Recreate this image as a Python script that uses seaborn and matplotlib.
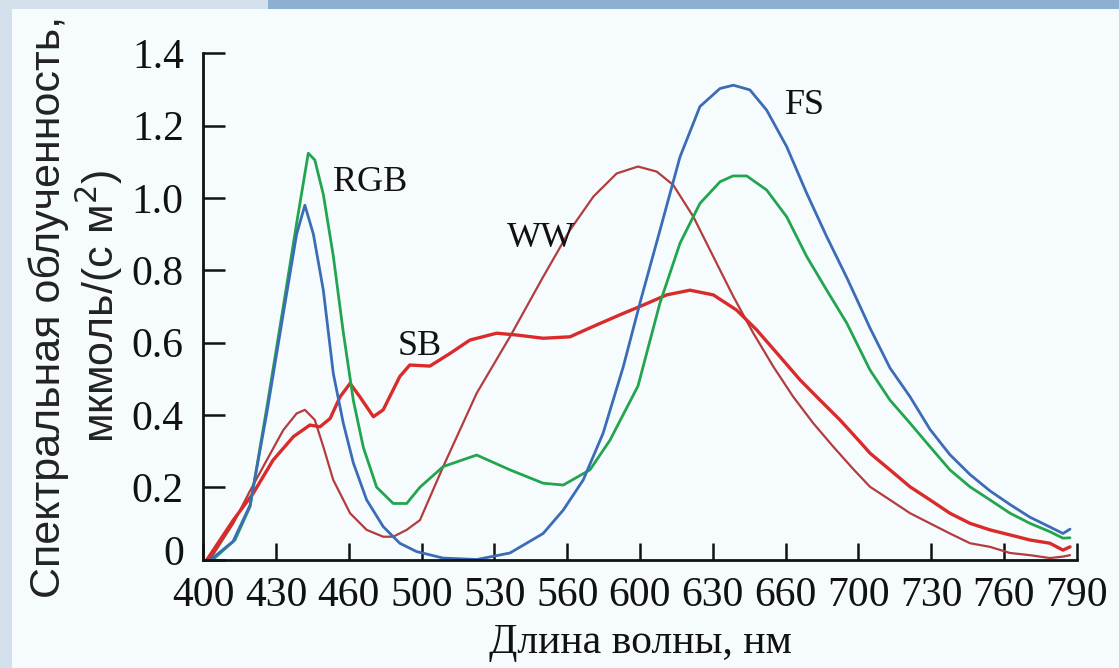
import numpy as np
import pandas as pd
import matplotlib
matplotlib.use("Agg")
import matplotlib.pyplot as plt
from matplotlib.patches import Rectangle
from matplotlib.transforms import ScaledTranslation
import seaborn as sns

# ---- data (wavelength, nm ; irradiance, umol/(s m2)) ----
tick_nm = [400, 430, 460, 500, 530, 560, 600, 630, 660, 700, 730, 760, 790]
tick_labels = [str(t) for t in tick_nm]
y_ticks = [0, 0.2, 0.4, 0.6, 0.8, 1.0, 1.2, 1.4]
y_tick_labels = ["0", "0.2", "0.4", "0.6", "0.8", "1.0", "1.2", "1.4"]

rgb_x = [404.0, 413.1, 419.3, 426.2, 433.0, 438.5, 443.3, 446.0, 449.5, 453.6, 457.7,
         462.5, 468.0, 475.3, 484.4, 491.8, 499.1, 508.9, 522.7, 536.4, 550.1, 558.4,
         572.5, 583.5, 598.9, 608.2, 616.5, 624.7, 633.0, 638.3, 644.0, 652.2, 660.6,
         671.6, 682.6, 693.6, 704.8, 713.0, 721.3, 729.5, 737.7, 746.0, 754.2, 762.5,
         770.7, 778.9, 784.3, 787.2]
rgb_y = [0.0, 0.054, 0.146, 0.42, 0.70, 0.93, 1.124, 1.105, 1.01, 0.84, 0.63,
         0.44, 0.31, 0.20, 0.155, 0.155, 0.20, 0.257, 0.289, 0.248, 0.211, 0.206,
         0.248, 0.33, 0.48, 0.709, 0.875, 0.985, 1.045, 1.061, 1.061, 1.022, 0.948,
         0.838, 0.745, 0.654, 0.524, 0.441, 0.377, 0.312, 0.248, 0.201, 0.165, 0.128,
         0.10, 0.077, 0.059, 0.06]

fs_x = [403.2, 412.3, 419.3, 426.2, 433.0, 438.5, 441.9, 445.4, 449.5, 453.6, 457.7,
        462.5, 469.8, 478.9, 488.0, 497.2, 508.8, 522.7, 536.4, 550.1, 558.4, 568.8,
        579.7, 590.8, 600.4, 608.2, 616.5, 624.7, 633.0, 638.5, 645.3, 652.2, 660.6,
        671.6, 682.6, 693.6, 700.7, 704.8, 713.0, 721.3, 729.5, 737.7, 746.0, 754.2,
        762.5, 770.7, 778.9, 784.3, 787.2]
fs_y = [0.0, 0.05, 0.15, 0.405, 0.68, 0.90, 0.98, 0.90, 0.745, 0.515, 0.378,
        0.267, 0.165, 0.091, 0.045, 0.022, 0.004, 0.0, 0.018, 0.072, 0.137, 0.22,
        0.349, 0.533, 0.72, 0.91, 1.114, 1.253, 1.303, 1.312, 1.299, 1.243, 1.142,
        1.013, 0.893, 0.78, 0.70, 0.64, 0.53, 0.45, 0.36, 0.29, 0.235, 0.19,
        0.152, 0.117, 0.09, 0.072, 0.084]

ww_x = [402.8, 412.4, 419.3, 426.2, 433.0, 438.5, 441.9, 446.0, 449.5, 453.6, 460.7,
        469.8, 478.9, 484.4, 491.8, 499.1, 508.9, 522.7, 536.4, 550.1, 561.5, 574.4,
        587.2, 598.9, 606.9, 613.7, 622.0, 630.2, 638.5, 646.7, 655.0, 664.2, 675.2,
        686.2, 697.2, 704.8, 713.0, 721.3, 729.5, 737.7, 746.0, 754.2, 762.5, 770.7,
        778.9, 784.3, 787.2]
ww_y = [0.0, 0.10, 0.19, 0.275, 0.358, 0.404, 0.414, 0.386, 0.312, 0.22, 0.128,
        0.082, 0.063, 0.063, 0.082, 0.109, 0.257, 0.46, 0.616, 0.782, 0.911, 1.004,
        1.068, 1.087, 1.073, 1.036, 0.948, 0.838, 0.727, 0.626, 0.533, 0.45, 0.377,
        0.312, 0.25, 0.201, 0.165, 0.128, 0.10, 0.072, 0.045, 0.035, 0.018, 0.012,
        0.004, 0.008, 0.012]

sb_x = [401.6, 412.4, 420.6, 428.8, 437.2, 444.0, 448.1, 452.3, 456.4, 460.7, 466.1,
        473.5, 478.9, 488.0, 493.5, 503.4, 511.7, 519.9, 530.9, 539.2, 550.1, 561.5,
        576.2, 590.9, 601.4, 611.0, 620.6, 630.2, 639.8, 648.1, 657.7, 667.9, 678.9,
        689.9, 700.7, 704.8, 713.0, 721.3, 729.5, 737.7, 746.0, 754.2, 762.5, 770.7,
        778.9, 784.3, 787.2]
sb_y = [0.0, 0.109, 0.183, 0.275, 0.34, 0.372, 0.367, 0.39, 0.45, 0.487, 0.45,
        0.395, 0.414, 0.506, 0.538, 0.535, 0.57, 0.607, 0.626, 0.621, 0.612, 0.616,
        0.649, 0.681, 0.704, 0.732, 0.745, 0.732, 0.69, 0.635, 0.561, 0.497, 0.441,
        0.386, 0.325, 0.294, 0.248, 0.201, 0.165, 0.128, 0.10, 0.082, 0.068, 0.054,
        0.045, 0.026, 0.035]

series_names = ["RGB", "FS", "WW", "SB"]
series_colors = {"RGB": "#23a44e", "FS": "#3b6cb5", "WW": "#b23c3e", "SB": "#da2a2a"}
series_widths = {"RGB": 2.0, "FS": 2.0, "WW": 1.6, "SB": 2.4}
label_pos = {"RGB": (453.6, 1.043), "FS": (659.7, 1.255), "WW": (535.1, 0.889), "SB": (487.0, 0.588)}

frames = []
for name, xs, ys in [("RGB", rgb_x, rgb_y), ("FS", fs_x, fs_y), ("WW", ww_x, ww_y), ("SB", sb_x, sb_y)]:
    frames.append(pd.DataFrame({"wl": xs, "val": ys, "lamp": name}))
df = pd.concat(frames, ignore_index=True)

# ---- figure ----
sns.set_style("ticks")
plt.rcParams["font.family"] = ["Liberation Serif", "DejaVu Serif"]
bg = "#f6fcfe"
fig = plt.figure(figsize=(11.19, 6.68), dpi=100, facecolor=bg)
fig.patches.append(Rectangle((0, 1 - 9 / 668), 268 / 1119, 9 / 668, transform=fig.transFigure,
                             facecolor="#d5e0ed", edgecolor="none", zorder=0))
fig.patches.append(Rectangle((268 / 1119, 1 - 9 / 668), 1 - 268 / 1119, 9 / 668, transform=fig.transFigure,
                             facecolor="#8cb0d0", edgecolor="none", zorder=0))
fig.patches.append(Rectangle((0, 0), 12 / 1119, 1, transform=fig.transFigure,
                             facecolor="#d5e0ed", edgecolor="none", zorder=0))

ax = fig.add_axes([203.2 / 1119, 1 - 559.5 / 668, 873.6 / 1119, 506.1 / 668])
ax.set_facecolor(bg)

idx = np.arange(len(tick_nm), dtype=float)


def forward(x):
    x = np.asarray(x, dtype=float)
    return np.interp(x, tick_nm, idx)


def inverse(i):
    i = np.asarray(i, dtype=float)
    return np.interp(i, idx, tick_nm)


ax.set_xscale("function", functions=(forward, inverse))

for name in ["WW", "SB", "RGB", "FS"]:
    sub = df[df["lamp"] == name]
    sns.lineplot(data=sub, x="wl", y="val", ax=ax, color=series_colors[name],
                 linewidth=series_widths[name], estimator=None, sort=True, legend=False)

for name in series_names:
    x0, y0 = label_pos[name]
    ax.text(x0, y0, name, fontsize=26, ha="left", va="center", color="#111111")

ax.set_xlim(400, 790)
ax.set_ylim(0, 1.4)
ax.set_xticks(tick_nm)
ax.set_xticklabels(tick_labels)
ax.set_yticks(y_ticks)
ax.set_yticklabels(y_tick_labels)
ax.tick_params(axis="x", direction="in", length=12, width=1.8, labelsize=30, pad=12, colors="#111111")
ax.tick_params(axis="y", direction="in", length=16, width=1.8, labelsize=30, pad=14, colors="#111111")
ax.xaxis.set_minor_locator(matplotlib.ticker.NullLocator())
for s in ["top", "right"]:
    ax.spines[s].set_visible(False)
for s in ["left", "bottom"]:
    ax.spines[s].set_linewidth(2.0)
    ax.spines[s].set_color("#111111")

# the "0" label sits a little above the baseline in the original
zero_lbl = ax.get_yticklabels()[0]
zero_lbl.set_transform(zero_lbl.get_transform() + ScaledTranslation(0, 7 / 72, fig.dpi_scale_trans))

ax.set_xlabel("Длина волны, нм", fontsize=30, color="#111111", labelpad=6)
ax.set_ylabel("Спектральная облученность,\nмкмоль/(с м$^2$)", fontsize=31,
              family=["Liberation Sans", "DejaVu Sans"], color="#222222", linespacing=1.1)
ax.yaxis.set_label_coords(-0.090, 0.5)

fig.savefig("out.png", dpi=100, facecolor=bg)
